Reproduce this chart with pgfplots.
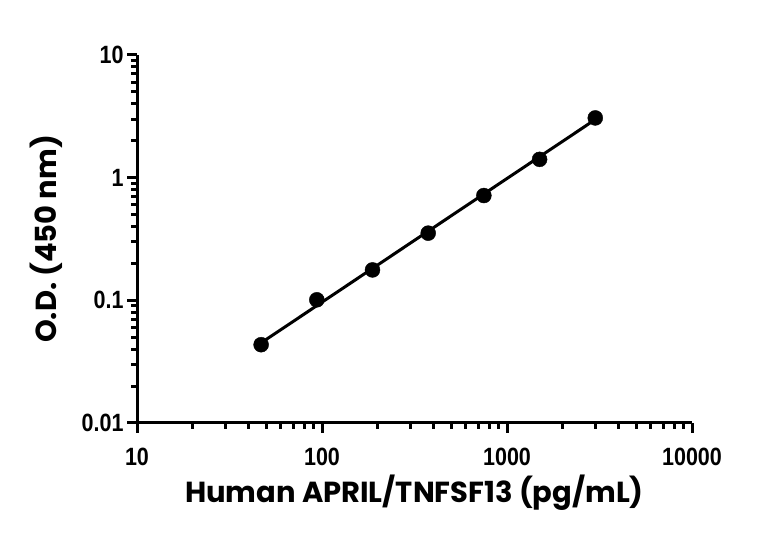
\documentclass[border=0pt]{standalone}
\usepackage{fontspec}
\usepackage{pgfplots}
\pgfplotsset{compat=1.18}
\setmainfont{Liberation Sans}
\newfontfamily\tickfont{Liberation Sans}[FakeStretch=0.86]
\newfontfamily\labfont{Poppins}
\begin{document}
\begin{tikzpicture}
\path[use as bounding box] (0,0) rectangle (768pt,534pt);
\begin{axis}[
  at={(137pt,111pt)}, anchor=south west,
  scale only axis, width=555pt, height=368pt,
  xmode=log, ymode=log,
  xmin=10, xmax=10000, ymin=0.01, ymax=10,
  axis x line=bottom, axis y line=left,
  axis line style={-, line width=3pt, black},
  tick align=outside,
  major tick length=10pt, minor tick length=6pt,
  tick style={black, line width=3pt},
  xtick={10,100,1000,10000}, xticklabels={10,100,1000,10000},
  ytick={0.01,0.1,1,10}, yticklabels={0.01,0.1,1,10},
  ticklabel style={font=\tickfont\bfseries\fontsize{25}{25}\selectfont},
  xticklabel style={yshift=-12pt},
  xlabel={Human APRIL/TNFSF13 (pg/mL)},
  ylabel={O.D. (450 nm)},
  xlabel shift=2pt, ylabel shift=12pt,
  label style={font=\labfont\bfseries\fontsize{29}{29}\selectfont},
  clip=false,
]
\addplot[black, line width=3pt, no marks] coordinates {(46.875,0.0450) (3000,2.98)};
\addplot[only marks, mark=*, mark size=7.5pt, black] coordinates {
(46.875,0.0435) (93.75,0.101) (187.5,0.177) (375,0.353) (750,0.715) (1500,1.41) (3000,3.07)};
\end{axis}
\end{tikzpicture}
\end{document}
